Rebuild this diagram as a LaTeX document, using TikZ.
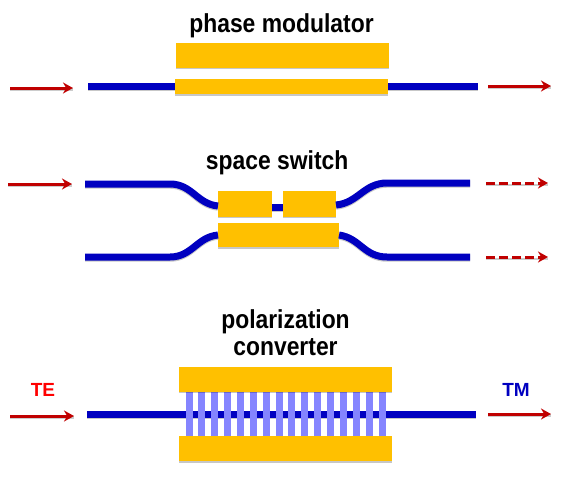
\documentclass[tikz,border=0pt]{standalone}
\usepackage{fontspec}
\setmainfont{Liberation Sans}
\newfontfamily\titlefont[FakeStretch=0.88]{Liberation Sans Bold}
\usetikzlibrary{arrows.meta,positioning,shadows}
\definecolor{guideblue}{HTML}{0000C0}
\definecolor{metal}{HTML}{FFC000}
\definecolor{lightred}{HTML}{C00000}
\definecolor{toothblue}{HTML}{8585FF}

\begin{document}
\begin{tikzpicture}[
    x=1pt, y=-1pt,
    node distance=0mm,
    electrode/.style={fill=metal, inner sep=0pt, minimum height=25pt, drop shadow={shadow xshift=0pt, shadow yshift=-1.2pt, fill=black, opacity=0.22}},
    tooth/.style={fill=toothblue, inner sep=0pt, minimum width=7pt, minimum height=44pt},
    guide/.style={draw=guideblue, line width=7pt, preaction={draw=black!22, line width=7pt, transform canvas={yshift=-1.2pt}}},
    beam/.style={draw=lightred, line width=3pt, -{Stealth[length=10pt, width=11pt]}, preaction={draw=black!20, -, line width=3pt, transform canvas={yshift=-1pt}}},
    title/.style={font=\titlefont\fontsize{26}{27}\selectfont, align=center, inner sep=0pt},
    mode/.style={font=\bfseries\fontsize{19}{22}\selectfont, inner sep=0pt}
]
\useasboundingbox (0,0) rectangle (568,483);

% phase modulator
\coordinate (pmin) at (88,86);
\coordinate (pmout) at (478,86);
\node[electrode, minimum width=213pt] (pmtop) at (282.5,55.5) {};
\node[electrode, minimum width=213pt, minimum height=15pt, below=11pt of pmtop, xshift=-1pt] (pmbot) {};
\node[title, above=5pt of pmtop, xshift=-1pt] (pmtitle) {phase modulator};
\draw[guide] (pmin) -- (pmbot.west |- pmin);
\draw[guide] (pmbot.east |- pmout) -- (pmout);
\coordinate (pmbeamaS) at (10,88);
\coordinate (pmbeamaE) at (73,88);
\coordinate (pmbeambS) at (488,86);
\coordinate (pmbeambE) at (551,86);
\draw[beam] (pmbeamaS) -- (pmbeamaE);
\draw[beam] (pmbeambS) -- (pmbeambE);

% space switch
\node[electrode, minimum width=54pt, minimum height=26pt] (swa) at (245,204) {};
\node[electrode, minimum width=53pt, minimum height=26pt, right=11pt of swa] (swb) {};
\node[electrode, minimum width=121pt, minimum height=24pt, below=6pt of swa.south west, anchor=north west] (swc) {};
\node[title, above=16pt of swa.north east, xshift=5pt, anchor=south] (swtitle) {space switch};
\coordinate (ulin) at (85,184);
\coordinate (llin) at (85,257);
\coordinate (ulout) at (470,183);
\coordinate (llout) at (470,257);
\draw[guide] (ulin) -- (170,184) .. controls (192,184) and (197,204) .. (218,206);
\draw[guide] (llin) -- (170,257) .. controls (192,257) and (197,237) .. (218,235);
\draw[guide] ([yshift=-3pt]swa.east) -- ([yshift=-3pt]swb.west);
\draw[guide] (336,205) .. controls (358,203) and (364,183) .. (387,183) -- (ulout);
\draw[guide] (339,235) .. controls (360,238) and (364,257) .. (387,257) -- (llout);
\coordinate (swbeamS) at (8,184);
\coordinate (swbeamE) at (72,184);
\coordinate (uoutS) at (486,183);
\coordinate (uoutE) at (548,183);
\coordinate (loutS) at (486,257);
\coordinate (loutE) at (548,257);
\draw[beam] (swbeamS) -- (swbeamE);
\draw[beam, dash pattern=on 9pt off 4pt, preaction={draw=white, -}] (uoutS) -- (uoutE);
\draw[beam, dash pattern=on 9pt off 4pt, preaction={draw=white, -}] (loutS) -- (loutE);

% polarization converter
\coordinate (pcin) at (87,414);
\coordinate (pcout) at (476,414);
\draw[guide] (pcin) -- (pcout);
\foreach \i in {0,...,15}
  \node[tooth] (t\i) at ({189+\i*12.87},414) {};
\node[electrode, minimum width=213pt] (pctop) at (285.5,379.5) {};
\node[electrode, minimum width=213pt, below=44pt of pctop] (pcbot) {};
\node[title, above=11pt of pctop] (pctitle) {polarization\\converter};
\node[mode, text=red] (te) at (43,390) {TE};
\node[mode, text=guideblue] (tm) at (516,390) {TM};
\coordinate (pcbeamaS) at (10,416);
\coordinate (pcbeamaE) at (74,416);
\coordinate (pcbeambS) at (488,414);
\coordinate (pcbeambE) at (551,414);
\draw[beam] (pcbeamaS) -- (pcbeamaE);
\draw[beam] (pcbeambS) -- (pcbeambE);
\end{tikzpicture}
\end{document}
